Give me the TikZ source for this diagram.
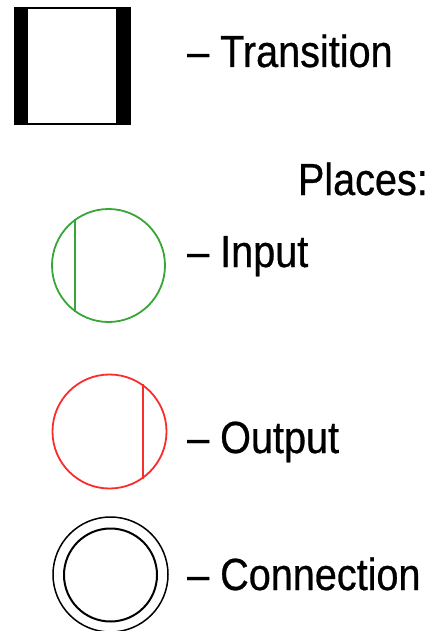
\documentclass[tikz,border=0pt]{standalone}
\usepackage{fontspec}
\setmainfont{Liberation Sans}[FakeStretch=0.88,FakeBold=0.6]
\definecolor{pgreen}{RGB}{55,165,55}
\definecolor{pred}{RGB}{250,45,45}
\begin{document}
\begin{tikzpicture}[x=1pt,y=-1pt,
  lbl/.style={inner sep=0pt,font=\fontsize{45}{50}\selectfont},
  place/.style={circle,inner sep=0pt,line width=1.8pt}]
\useasboundingbox (0,0) rectangle (433,631);
% Transition
\node[draw,line width=1.5pt,minimum width=115,minimum height=116,inner sep=0pt] (tr) at (72.5,66) {};
\fill (tr.north west) rectangle ([xshift=14]tr.south west);
\fill ([xshift=-15]tr.north east) rectangle (tr.south east);
\node[lbl,anchor=base west] (ttr) at (187,67) {– Transition};
\node[lbl,anchor=base east] (tpl) at (428,195) {Places:};
% Input
\node[place,draw=pgreen,minimum size=113] (inp) at (108.5,265.5) {};
\draw[pgreen,line width=1.8pt] (inp.126) -- (inp.234);
\node[lbl,anchor=base west] (tin) at (187,267) {– Input};
% Output
\node[place,draw=pred,minimum size=114] (out) at (109.5,431.5) {};
\draw[pred,line width=1.8pt] (out.55) -- (out.-55);
\node[lbl,anchor=base west] (tout) at (187,453) {– Output};
% Connection
\node[place,draw,line width=1.5pt,minimum size=115] (con) at (110.5,574.5) {};
\node[place,draw,line width=2pt,minimum size=93] (coni) at (110.5,575) {};
\node[lbl,anchor=base west] (tcon) at (187,590) {– Connection};
\end{tikzpicture}
\end{document}
